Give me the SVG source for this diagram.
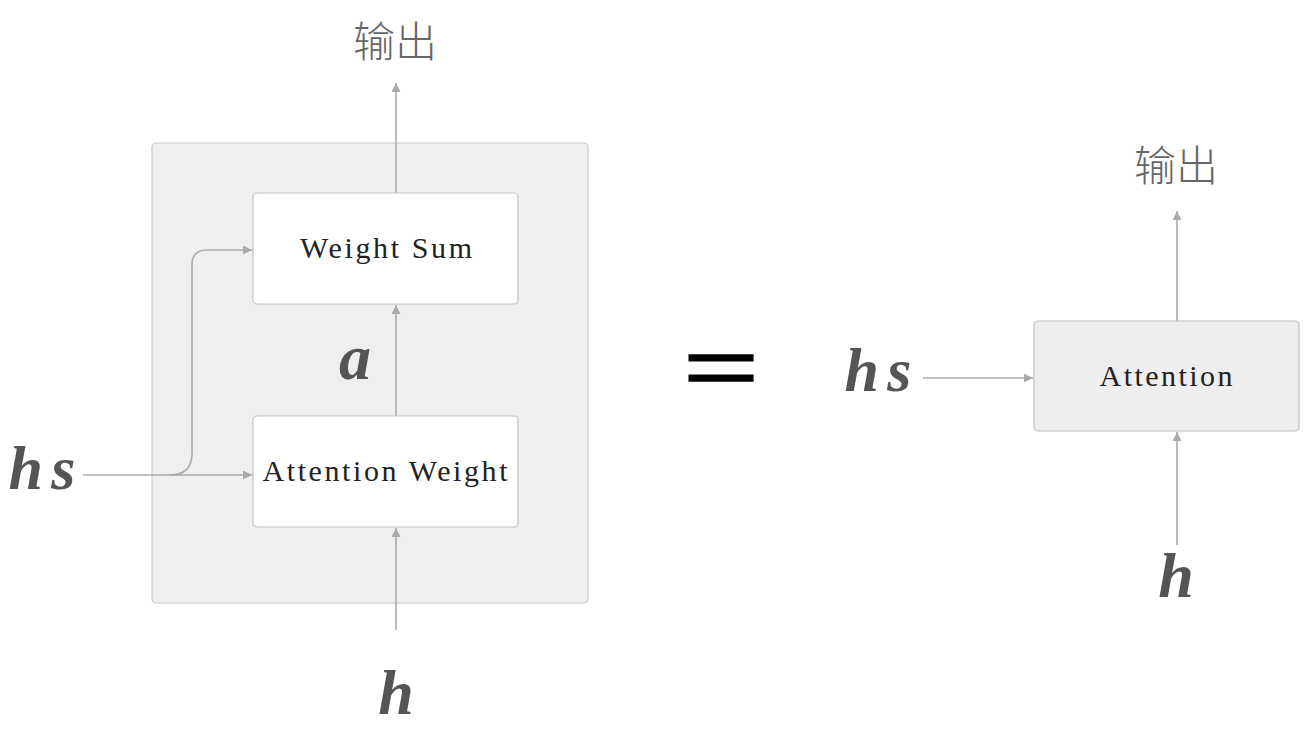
<svg xmlns="http://www.w3.org/2000/svg" width="1314" height="731" viewBox="0 0 1314 731">
<style>
.ln{fill:none;stroke:#aaaaaa;stroke-width:1.6}
.box{fill:#ffffff;stroke:#c4c4c4;stroke-width:1.2}
.lbl{font-family:"Liberation Serif","Times New Roman",serif;font-size:30px;fill:#222;text-anchor:middle}
.var{font-family:"Liberation Serif","Times New Roman",serif;font-weight:bold;font-style:italic;fill:#555;text-anchor:middle}
.out{font-family:"Noto Sans CJK SC","Noto Sans",sans-serif;font-weight:300;font-size:42px;fill:#666;text-anchor:middle}
</style>
<defs>
<marker id="arr" viewBox="0 0 10 10" refX="10" refY="5" markerWidth="9" markerHeight="9" orient="auto" markerUnits="userSpaceOnUse">
<path d="M0,0 L10,5 L0,10 z" fill="#aaaaaa"/>
</marker>
</defs>
<rect width="1314" height="731" fill="#ffffff"/>
<g id="outer"><rect x="152" y="143" width="436" height="460" rx="4" fill="#efefef" stroke="#c8c8c8" stroke-width="1.2"/></g>
<g id="connectors">
<path class="ln" d="M396,193 V83" marker-end="url(#arr)"/>
<path class="ln" d="M396,416 V305" marker-end="url(#arr)"/>
<path class="ln" d="M396,630 V528" marker-end="url(#arr)"/>
<path class="ln" d="M83,475 H252" marker-end="url(#arr)"/>
<path class="ln" d="M170,475 Q192,475 192,453 V265 Q192,250 207,250 H252" marker-end="url(#arr)"/>
<path class="ln" d="M1177,321 V211" marker-end="url(#arr)"/>
<path class="ln" d="M1177,545 V432" marker-end="url(#arr)"/>
<path class="ln" d="M923,378 H1033" marker-end="url(#arr)"/>
</g>
<g id="weight-sum"><rect class="box" x="253" y="193" width="265" height="111" rx="4"/><text class="lbl" x="386" y="258" textLength="172" lengthAdjust="spacing">Weight Sum</text></g>
<g id="attention-weight"><rect class="box" x="253" y="416" width="265" height="111" rx="4"/><text class="lbl" x="385" y="481" textLength="245" lengthAdjust="spacing">Attention Weight</text></g>
<g id="attention"><rect x="1034" y="321" width="265" height="110" rx="4" fill="#eeeeee" stroke="#c0c0c0" stroke-width="1.2"/><text class="lbl" x="1166" y="386" textLength="133" lengthAdjust="spacing">Attention</text></g>
<g id="labels">
<text class="out" x="395" y="57">输出</text>
<text class="out" x="1176" y="181">输出</text>
<text class="var" x="42" y="489" font-size="62" textLength="67" lengthAdjust="spacing">hs</text>
<text class="var" x="355" y="379" font-size="64">a</text>
<text class="var" x="878" y="391" font-size="62" textLength="67" lengthAdjust="spacing">hs</text>
<text class="var" x="396" y="714" font-size="64">h</text>
<text class="var" x="1176" y="597" font-size="64">h</text>
<text transform="translate(721,395) scale(1.58,1)" x="0" y="0" font-family="Liberation Sans, Arial, sans-serif" font-size="82" fill="#000" stroke="#000" stroke-width="1.4" text-anchor="middle">=</text>
</g>
</svg>
